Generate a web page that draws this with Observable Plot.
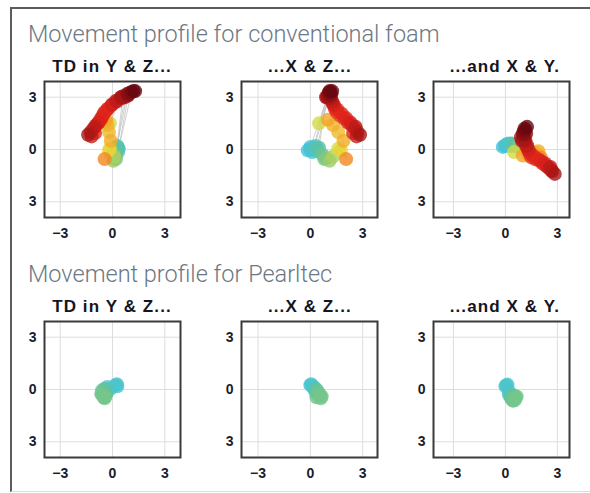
<!DOCTYPE html>
<html><head><meta charset="utf-8">
<script src="https://cdn.jsdelivr.net/npm/d3@7"></script>
<script src="https://cdn.jsdelivr.net/npm/@observablehq/plot@0.6"></script>
<style>
body{margin:0;background:#fff;}
#root{position:relative;width:590px;height:493px;overflow:hidden;font-family:"Liberation Sans",Arial,sans-serif;}
.box{position:absolute;left:10px;top:7px;width:600px;height:482px;border-top:2px solid #5c5c5c;border-left:2px solid #5c5c5c;border-bottom:1px solid #dcdcdc;}
.title{position:absolute;left:28px;font-family:Roboto,"Liberation Sans",sans-serif;font-weight:300;font-size:23.5px;line-height:23.5px;color:#6d7785;white-space:nowrap;}
.ptitle{position:absolute;width:196px;text-align:center;font-family:"Liberation Sans",Arial,sans-serif;font-weight:bold;font-size:17px;line-height:17px;letter-spacing:1.1px;color:#15151f;white-space:nowrap;}
.panel{position:absolute;}
</style></head><body><div id="root"><div class="box"></div></div>
<script>
// ---- text ----
const groupTitles = ["Movement profile for conventional foam", "Movement profile for Pearltec"];
const panelTitles = ["TD in Y & Z...", "...X & Z...", "...and X & Y."];
const xTicks = [-3, 0, 3];
const xTickLabels = ["\u22123", "0", "3"];
const yTicks = [3, 0, -3];
const yTickLabels = ["3", "0", "3"];

// ---- displacement trajectories (X, Y, Z), conventional foam ----
const foamX = [0.00,0.20,0.40,-0.15,0.30,0.10,1.00,1.10,0.90,0.50,0.70,0.90,1.10,0.80,1.30,1.60,1.75,2.05,1.90,1.60,1.30,1.00,0.50,0.95,1.05,1.25,1.20,1.15,1.25,1.30,1.40,1.50,1.70,1.95,2.15,2.35,2.55,2.70,2.85,2.65,2.45,2.60,2.30,2.05,1.80,1.55,1.35,1.20,1.10,1.05,0.35,0.00,1.00,1.15,0.20];
const foamY = [0.20,0.30,0.35,0.15,0.28,0.32,0.90,1.20,0.70,0.25,0.20,0.10,0.05,0.20,0.10,-0.15,-0.20,-0.45,-0.10,-0.20,-0.30,-0.35,-0.15,0.50,1.00,1.30,0.90,0.55,0.25,0.00,-0.25,-0.45,-0.55,-0.65,-0.80,-0.95,-1.10,-1.25,-1.40,-1.20,-1.00,-1.00,-0.80,-0.65,-0.50,-0.30,-0.05,0.20,0.50,0.85,0.20,0.25,0.60,1.10,0.35];
const foamZ = [0.00,0.10,0.05,-0.05,0.20,-0.15,3.10,3.35,3.00,0.10,-0.30,-0.50,-0.65,-0.55,-0.40,0.05,-0.05,-0.55,0.50,1.00,1.40,1.70,1.50,3.00,3.25,3.35,3.15,2.95,2.75,2.60,2.35,2.15,1.95,1.75,1.55,1.40,1.20,1.00,0.85,0.75,0.95,1.30,1.55,1.80,2.05,2.30,2.55,2.80,3.00,3.20,-0.10,0.15,3.05,3.30,0.05];

// ---- Pearltec ----
const pearlX = [0.05,0.12,0.00,0.20,0.30,0.40,0.50,0.60,0.55,0.40,0.35,0.30,0.50,0.45,0.20,0.65];
const pearlY = [0.25,0.28,0.18,-0.10,-0.30,-0.40,-0.50,-0.45,-0.60,-0.60,-0.50,-0.45,-0.35,-0.65,-0.30,-0.40];
const pearlZ = [0.30,0.18,0.25,0.05,-0.15,-0.25,-0.35,-0.50,-0.30,-0.05,-0.45,0.05,-0.25,-0.25,0.15,-0.40];

// colour = total displacement magnitude
const colorStops = [0, 0.35, 0.6, 1.2, 1.7, 2.1, 2.8, 3.5];
const colorRange = ["#38b9e6","#48c5d4","#5ec2a0","#8cc874","#e8df3a","#f5921e","#e0231b","#8c1013"];

const planes = [["Y","Z"], ["X","Z"], ["X","Y"]];

function rowsOf(X, Y, Z) {
  return X.map((x, i) => ({X: x, Y: Y[i], Z: Z[i], mag: Math.hypot(x, Y[i], Z[i])}));
}
const datasets = [rowsOf(foamX, foamY, foamZ), rowsOf(pearlX, pearlY, pearlZ)];

const root = document.getElementById("root");
const frameLefts = [44, 241, 433];
const xDomains = [[-3.9, 3.9], [-3.95, 3.85], [-4.15, 3.7]];
const rowOffset = 240;
const frameTop0 = 81, frameSize = 136;
const mL = 44, mR = 4, mT = 2, mB = 30;

datasets.forEach((rows, g) => {
  const oy = g * rowOffset;
  const t = document.createElement("div");
  t.className = "title";
  t.style.top = (23 + oy) + "px";
  t.textContent = groupTitles[g];
  root.appendChild(t);
  planes.forEach(([h, v], p) => {
    const [x0, x1] = xDomains[p];
    const zeroX = frameLefts[p] + frameSize * (0 - x0) / (x1 - x0);
    const pt = document.createElement("div");
    pt.className = "ptitle";
    pt.style.top = (58 + oy) + "px";
    pt.style.left = (zeroX - 98) + "px";
    pt.textContent = panelTitles[p];
    root.appendChild(pt);

    const chart = Plot.plot({
      width: mL + frameSize + mR,
      height: mT + frameSize + mB,
      marginLeft: mL, marginRight: mR, marginTop: mT, marginBottom: mB,
      x: {domain: xDomains[p], ticks: xTicks, tickSize: 0, tickPadding: 11, label: null,
          tickFormat: d => xTickLabels[xTicks.indexOf(d)]},
      y: {domain: [-3.9, 3.9], ticks: yTicks, tickSize: 0, tickPadding: 8, label: null,
          tickFormat: d => yTickLabels[yTicks.indexOf(d)]},
      color: {type: "linear", domain: colorStops, range: colorRange},
      style: {fontFamily: "'Liberation Sans', Arial, sans-serif", fontSize: "14px", fontWeight: "bold", color: "#1b1c2c", background: "transparent", overflow: "visible"},
      marks: [
        Plot.gridX(xTicks, {stroke: "#dedede", strokeOpacity: 1}),
        Plot.gridY(yTicks, {stroke: "#dedede", strokeOpacity: 1}),
        Plot.line(rows, {x: h, y: v, stroke: "#c4c4c4", strokeWidth: 1, strokeOpacity: 0.8}),
        Plot.dot(rows, {x: h, y: v, r: 7, fill: "mag", fillOpacity: 0.8, stroke: null, sort: "mag"}),
        Plot.frame({stroke: "#3a3a3a", strokeWidth: 2})
      ]
    });
    const wrap = document.createElement("div");
    wrap.className = "panel";
    wrap.style.left = (frameLefts[p] - mL) + "px";
    wrap.style.top = (frameTop0 + oy - mT) + "px";
    wrap.appendChild(chart);
    root.appendChild(wrap);
  });
});
</script>
</body></html>
